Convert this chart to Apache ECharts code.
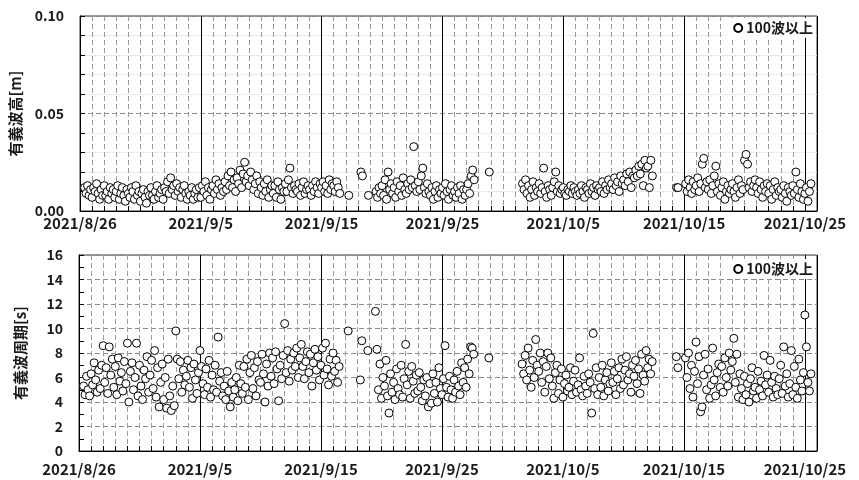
<!DOCTYPE html>
<html>
<head>
<meta charset="utf-8">
<script src="https://cdn.jsdelivr.net/npm/echarts@6/dist/echarts.min.js"></script>
<style>
html,body{margin:0;padding:0;background:#fff;}
#chart{width:859px;height:480px;}
</style>
</head>
<body>
<div id="chart"></div>
<script>
// sampling: every 3 hours starting 2021/8/26 00:00 (8 samples per day)
const startYear = 2021, startMonth = 8, startDay = 26;
const stepHours = 3;
const xTickLabels = ['2021/8/26','2021/9/5','2021/9/15','2021/9/25','2021/10/5','2021/10/15','2021/10/25'];
const legendName = '100波以上';

// significant wave height [m]
const waveHeight = [
null,null,null,.012,.009,.013,.008,.011,
.007,.012,.010,.014,.009,.006,.011,.008,
.013,.008,.010,.006,.012,.009,.011,.007,
.010,.013,.006,.009,.012,.008,.005,.011,
.009,.007,.012,.010,.006,.013,.008,.010,
.005,.009,.011,.007,.004,.010,.008,.012,
.008,.006,.010,.013,.007,.009,.011,.006,
.012,.010,.015,.009,.017,.011,.013,.008,
.014,.010,.012,.007,.011,.013,.009,.006,
.010,.008,.012,.006,.009,.011,.007,.012,
.007,.013,.010,.015,.008,.012,.006,.011,
.013,.009,.016,.011,.014,.008,.012,.010,
.015,.011,.018,.013,.020,.012,.016,.010,
.017,.014,.021,.012,.019,.025,.015,.018,
.013,.020,.016,.011,.014,.018,.009,.015,
.012,.008,.014,.010,.016,.007,.011,.013,
.009,.013,.007,.015,.011,.006,.012,.010,
.014,.010,.016,.022,.012,.009,.013,.011,
.010,.014,.008,.012,.015,.009,.011,.013,
.011,.008,.013,.010,.015,.012,.009,.014,
.012,.015,.010,.013,.009,.016,.011,.014,
.013,.010,.015,.012,.009,null,null,null,
null,null,.008,null,null,null,null,null,
null,null,.020,.018,null,null,null,.008,
null,null,null,null,.010,.007,.012,.009,
.013,.008,.016,.006,.020,.011,.014,.009,
.012,.007,.015,.010,.013,.008,.017,.011,
.009,.014,.011,.016,.012,.033,.013,.010,
.015,.011,.018,.022,.012,.009,.014,.010,
.008,.012,.006,.010,.013,.007,.011,.009,
.012,.008,.014,.010,.006,.011,.013,.008,
.010,.007,.012,.009,.013,.006,.011,.008,
.011,.014,.009,.018,.021,.016,null,null,
null,null,null,null,null,null,null,.020,
null,null,null,null,null,null,null,null,
null,null,null,null,null,null,null,null,
null,null,null,null,null,.014,.011,.016,
.009,.013,.007,.011,.015,.008,.012,.010,
.014,.009,.012,.022,.010,.007,.013,.011,
.008,.012,.015,.020,.010,.013,.009,.011,
.012,.009,.008,.011,.010,.013,.009,.012,
.010,.008,.011,.009,.013,.010,.007,.012,
.011,.009,.014,.010,.012,.008,.013,.011,
.012,.010,.015,.009,.013,.011,.016,.012,
.014,.011,.017,.013,.015,.010,.018,.014,
.016,.013,.019,.015,.020,.012,.018,.017,
.021,.018,.023,.019,.024,.013,.026,.022,
.023,.012,.026,.018,null,null,null,null,
null,null,null,null,null,null,null,null,
null,null,null,.012,.012,null,null,null,
null,.014,.010,.016,.012,.009,.015,.011,
.013,.017,.010,.014,.024,.027,.012,.015,
.011,.016,.009,.013,.018,.023,.010,.014,
.008,.012,.015,.006,.010,.013,.009,.011,
.014,.010,.007,.012,.016,.009,.013,.011,
.026,.029,.024,.012,.015,.010,.013,.016,
.012,.009,.015,.011,.007,.013,.010,.014,
.009,.013,.006,.011,.015,.008,.012,.010,
.011,.007,.013,.009,.005,.012,.010,.008,
.013,.009,.020,.011,.007,.014,.010,.006,
.009,.012,.005,.010,.014,null,null,null
];

// significant wave period [s]
const wavePeriod = [
null,null,null,5.3,4.6,6.1,5.0,4.5,
6.3,5.4,7.2,5.8,4.8,6.6,5.1,7.0,
8.6,5.6,6.8,4.7,8.5,6.2,7.5,5.2,
6.9,4.6,7.6,5.7,6.4,4.9,7.3,5.5,
8.8,4.0,6.5,7.2,5.0,6.0,8.8,4.5,
7.0,5.3,4.2,6.6,5.9,7.7,4.8,6.2,
7.4,5.1,8.2,4.4,6.8,3.6,5.6,7.1,
4.2,6.0,3.5,7.5,4.5,3.3,5.3,3.7,
9.8,7.5,5.9,7.3,4.8,6.6,5.4,6.1,
7.4,5.2,6.8,4.3,7.1,5.8,4.7,6.4,
8.2,6.9,5.5,4.6,6.7,5.2,7.4,4.4,
6.2,5.0,7.0,4.8,9.3,5.7,6.4,4.5,
5.3,4.2,6.5,4.9,3.6,5.6,4.4,5.0,
6.0,4.1,7.0,5.5,4.7,6.9,5.2,7.5,
4.2,6.4,7.8,5.1,6.8,4.5,7.3,5.8,
5.6,7.9,6.3,4.0,7.1,5.3,8.0,6.1,
7.6,5.5,8.1,6.7,4.1,7.0,5.9,7.8,
10.4,6.4,8.2,5.7,7.5,6.6,8.0,6.9,
8.4,6.0,7.6,8.7,6.9,5.9,7.3,8.1,
6.4,7.9,5.3,7.2,8.3,6.6,7.7,5.8,
7.0,8.4,6.2,8.8,6.7,5.4,7.5,6.1,
8.0,6.5,7.4,5.6,6.9,null,null,null,
null,null,9.8,null,null,null,null,null,
null,null,5.8,9.0,null,null,null,8.2,
null,null,null,null,11.4,8.3,5.0,7.1,
4.3,6.0,5.3,7.4,4.5,3.1,6.3,4.8,
5.6,4.2,6.7,5.1,4.6,7.0,4.4,5.9,
8.7,5.4,6.5,4.3,6.9,5.7,4.7,6.2,
4.9,6.4,5.2,4.1,5.8,4.5,6.0,3.6,
5.5,3.9,6.3,4.7,5.6,4.0,6.8,5.1,
4.6,5.9,8.6,5.2,4.4,6.1,5.0,4.3,
5.8,4.8,6.5,5.3,4.6,7.2,5.6,6.8,
5.2,7.5,6.3,8.5,8.4,7.9,null,null,
null,null,null,null,null,null,null,7.6,
null,null,null,null,null,null,null,null,
null,null,null,null,null,null,null,null,
null,null,null,null,null,7.1,6.3,7.8,
5.8,8.4,6.6,5.2,7.4,6.0,9.1,7.0,
6.5,8.0,5.6,7.3,4.8,6.9,8.0,5.9,
7.6,5.3,4.3,6.4,7.0,4.7,5.8,6.7,
4.4,5.5,6.2,4.9,5.2,6.8,4.6,5.7,
6.6,4.8,5.4,7.6,5.0,4.5,6.1,5.3,
4.7,6.3,5.6,3.1,9.6,5.1,6.8,4.6,
6.0,5.2,7.0,4.5,5.8,6.4,4.9,5.5,
7.2,5.6,6.5,4.6,5.9,6.8,5.1,7.5,
5.4,6.6,7.7,5.8,6.3,4.8,7.0,6.1,
7.4,5.5,6.7,4.7,7.9,6.2,5.7,8.2,
6.8,7.5,6.3,7.3,null,null,null,null,
null,null,null,null,null,null,null,null,
null,null,null,7.7,6.8,null,null,null,
null,7.6,6.0,8.0,5.1,7.0,4.4,6.5,
8.9,5.5,7.7,3.2,3.6,6.2,7.9,5.0,
6.7,4.3,5.4,8.4,5.8,4.5,6.4,7.1,
5.2,6.9,4.8,7.6,6.0,5.3,8.0,6.6,
7.3,9.2,5.6,7.9,4.4,6.3,5.1,4.2,
6.1,4.6,5.5,4.0,5.9,6.8,4.9,5.2,
4.3,6.5,5.0,5.7,4.5,7.8,5.4,6.2,
4.8,7.4,5.6,4.4,6.1,5.1,4.6,5.9,
7.0,4.7,8.5,5.3,6.3,4.4,5.5,8.2,
4.6,6.9,5.2,4.3,7.5,5.8,4.9,6.4,
11.1,8.5,5.6,4.9,6.3,null,null,null
];

function toPairs(arr) {
  const out = [];
  arr.forEach((v, i) => { if (v !== null) out.push([i * stepHours / 24, v]); });
  return out;
}

const FONT = "'Noto Sans CJK JP','Noto Sans',sans-serif";
const TXT = '#1a1a1a';

function dailyAxis(g) {
  return {
    type: 'value', gridIndex: g, position: 'bottom', min: 0, max: 61, interval: 1, z: 0,
    axisLine: { show: false },
    axisTick: { show: true, inside: true, length: 5, lineStyle: { color: '#000' } },
    axisLabel: { show: false },
    splitLine: { show: true, lineStyle: { color: '#9a9a9a', width: 1, type: [5, 3] } }
  };
}
function majorAxis(g, margin) {
  return {
    type: 'value', gridIndex: g, position: 'bottom', min: 0, max: 61, interval: 10, z: 2,
    axisLine: { show: true, onZero: false, lineStyle: { color: '#000', width: 1 } },
    axisTick: { show: false },
    axisLabel: {
      show: true, margin: margin, fontSize: 15, fontWeight: 'bold', color: TXT, fontFamily: FONT,
      showMaxLabel: false,
      formatter: v => (v % 10 === 0 && xTickLabels[v / 10]) ? xTickLabels[v / 10] : ''
    },
    splitLine: { show: true, lineStyle: { color: '#000', width: 1 } }
  };
}

const option = {
  animation: false,
  backgroundColor: '#fff',
  textStyle: { fontFamily: FONT },
  grid: [
    { left: 79, right: 42, top: 16, height: 195, show: true, borderColor: '#333', borderWidth: 1, backgroundColor: 'transparent' },
    { left: 79, right: 42, top: 255, height: 196, show: true, borderColor: '#333', borderWidth: 1, backgroundColor: 'transparent' }
  ],
  xAxis: [dailyAxis(0), majorAxis(0, 5), dailyAxis(1), majorAxis(1, 11)],
  yAxis: [
    {
      type: 'value', gridIndex: 0, min: 0, max: 0.1, interval: 0.05,
      name: '有義波高[m]', nameLocation: 'middle', nameRotate: 90, nameGap: 57, nameMoveOverlap: false,
      nameTextStyle: { fontSize: 15, fontWeight: 'bold', color: TXT, fontFamily: FONT },
      axisLine: { show: true, lineStyle: { color: '#000' } },
      axisTick: { show: true, inside: true, length: 5, lineStyle: { color: '#000' } },
      minorTick: { show: true, splitNumber: 5, length: 5, lineStyle: { color: '#000' } },
      axisLabel: { margin: 16, fontSize: 14, fontWeight: 'bold', color: TXT, fontFamily: FONT, formatter: v => v.toFixed(2) },
      splitLine: { show: true, lineStyle: { color: '#8a8a8a', type: [5, 3] } },
      minorSplitLine: { show: true, lineStyle: { color: '#ececec', width: 1 } }
    },
    {
      type: 'value', gridIndex: 1, min: 0, max: 16, interval: 2,
      name: '有義波周期[s]', nameLocation: 'middle', nameRotate: 90, nameGap: 51, nameMoveOverlap: false,
      nameTextStyle: { fontSize: 15, fontWeight: 'bold', color: TXT, fontFamily: FONT },
      axisLine: { show: true, lineStyle: { color: '#000' } },
      axisTick: { show: true, inside: true, length: 5, lineStyle: { color: '#000' } },
      minorTick: { show: true, splitNumber: 2, length: 5, lineStyle: { color: '#000' } },
      axisLabel: { margin: 16, fontSize: 14, fontWeight: 'bold', color: TXT, fontFamily: FONT },
      splitLine: { show: true, lineStyle: { color: '#8a8a8a', type: [5, 3] } }
    }
  ],
  legend: [
    {
      data: [legendName], right: 43, top: 18, orient: 'horizontal',
      backgroundColor: '#fff', padding: [3, 3, 3, 6], itemWidth: 8, itemHeight: 8, itemGap: 4,
      textStyle: { fontSize: 14, fontWeight: 'bold', color: TXT, fontFamily: FONT, padding: [0, 0, 0, -1] },
      selectedMode: false
    },
    {
      data: [legendName], right: 43, top: 259, orient: 'horizontal',
      backgroundColor: '#fff', padding: [3, 3, 3, 6], itemWidth: 8, itemHeight: 8, itemGap: 4,
      textStyle: { fontSize: 14, fontWeight: 'bold', color: TXT, fontFamily: FONT, padding: [0, 0, 0, -1] },
      selectedMode: false
    }
  ],
  series: [
    {
      name: legendName, type: 'scatter', xAxisIndex: 1, yAxisIndex: 0,
      data: toPairs(waveHeight), symbol: 'circle', symbolSize: 8, z: 5,
      itemStyle: { color: '#fff', borderColor: '#000', borderWidth: 1, opacity: 1 }
    },
    {
      name: legendName, type: 'scatter', xAxisIndex: 3, yAxisIndex: 1,
      data: toPairs(wavePeriod), symbol: 'circle', symbolSize: 8, z: 5,
      itemStyle: { color: '#fff', borderColor: '#000', borderWidth: 1, opacity: 1 }
    }
  ]
};

const chart = echarts.init(document.getElementById('chart'), null, { renderer: 'canvas' });
chart.setOption(option);
</script>
</body>
</html>
